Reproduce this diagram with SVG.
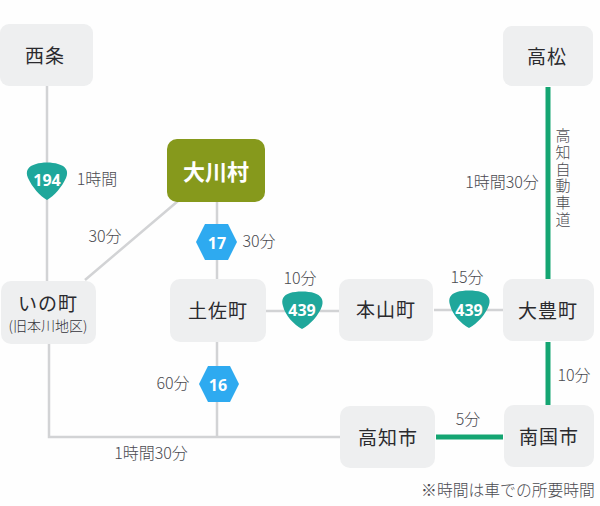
<svg xmlns="http://www.w3.org/2000/svg" width="600" height="506" viewBox="0 0 600 506">
<style>
text{font-family:"Noto Sans CJK JP","Noto Sans",sans-serif;text-anchor:middle}
.box{fill:#eeeff0}
.name{font-size:19px;fill:#2a2a2e;font-weight:400;letter-spacing:1px}
.t{font-size:16px;fill:#4a4a50;font-weight:300}
.g{stroke:#d2d3d5;stroke-width:2.5;fill:none}
.e{stroke:#14a572;stroke-width:5;fill:none}
.shield{fill:#1fa79b}
.hex{fill:#2eaaf0}
.num{font-family:"Open Sans",sans-serif;font-weight:700;font-size:16px;fill:#fff}
</style>
<rect width="600" height="506" fill="#fefefe"/>
<g id="connectors">
<path class="g" d="M47 86V282M178 201L85 280M217 200V280M49 343V437H341M217 342V437M266 311H340M434 310H504"/>
<path class="e" d="M548 87V279M548 342V405M436 437H503"/>
</g>
<g id="saijo"><rect class="box" x="0" y="24" width="93" height="62" rx="9"/><text class="name" x="45" y="63">西条</text></g>
<g id="takamatsu"><rect class="box" x="503" y="26" width="90" height="60" rx="9"/><text class="name" x="547" y="64">高松</text></g>
<g id="okawa"><rect x="167" y="139" width="98" height="63" rx="10" fill="#86991c"/><text x="216" y="180" font-size="22" font-weight="700" fill="#fff">大川村</text></g>
<g id="ino"><rect class="box" x="1" y="281" width="95" height="63" rx="10"/><text class="name" x="48" y="311">いの町</text><text x="48" y="331" font-size="14" fill="#33333a" font-weight="300">(旧本川地区)</text></g>
<g id="tosa"><rect class="box" x="170" y="279" width="96" height="63" rx="10"/><text class="name" x="218" y="318">土佐町</text></g>
<g id="motoyama"><rect class="box" x="339" y="279" width="94" height="62" rx="10"/><text class="name" x="386" y="317">本山町</text></g>
<g id="otoyo"><rect class="box" x="503" y="279" width="91" height="62" rx="10"/><text class="name" x="548" y="318">大豊町</text></g>
<g id="kochi"><rect class="box" x="340" y="406" width="95" height="62" rx="10"/><text class="name" x="388" y="445">高知市</text></g>
<g id="nankoku"><rect class="box" x="504" y="405" width="90" height="62" rx="10"/><text class="name" x="549" y="444">南国市</text></g>
<g id="r194"><path class="shield" d="M36 164C42 162 52 162 58 164C66 166 69 171 66 178C62 187 54 196 47 200C40 196 32 187 28 178C25 171 28 166 36 164Z"/><text class="num" x="47" y="186">194</text></g>
<g id="r17"><path class="hex" d="M205 224H228L237 242L228 260H205L196 242Z"/><text class="num" x="217" y="249">17</text></g>
<g id="r16"><path class="hex" d="M208 366H230L239 384L230 402H208L199 384Z"/><text class="num" x="218" y="391">16</text></g>
<g id="r439a"><path class="shield" d="M290 293C296 291 308 291 314 293C321 295 324 300 322 306C319 315 310 325 302 329C294 325 285 315 283 306C281 300 283 295 290 293Z"/><text class="num" x="302" y="316">439</text></g>
<g id="r439b"><path class="shield" d="M457 292C463 290 475 290 481 292C488 294 491 299 489 305C486 314 477 324 469 328C461 324 452 314 450 305C448 299 450 294 457 292Z"/><text class="num" x="469" y="316">439</text></g>
<g id="labels">
<text class="t" x="97" y="185">1時間</text>
<text class="t" x="105" y="242">30分</text>
<text class="t" x="259" y="247">30分</text>
<text class="t" x="300" y="284">10分</text>
<text class="t" x="467" y="283">15分</text>
<text class="t" x="173" y="389">60分</text>
<text class="t" x="151" y="459">1時間30分</text>
<text class="t" x="574" y="381">10分</text>
<text class="t" x="468" y="425">5分</text>
<text class="t" x="502" y="188">1時間30分</text>
<text class="t" x="563" y="128" style="writing-mode:vertical-rl;text-anchor:start;font-size:15px;letter-spacing:1.7px">高知自動車道</text>
<text class="t" x="508" y="496" style="font-size:15.8px">※時間は車での所要時間</text>
</g>
</svg>
